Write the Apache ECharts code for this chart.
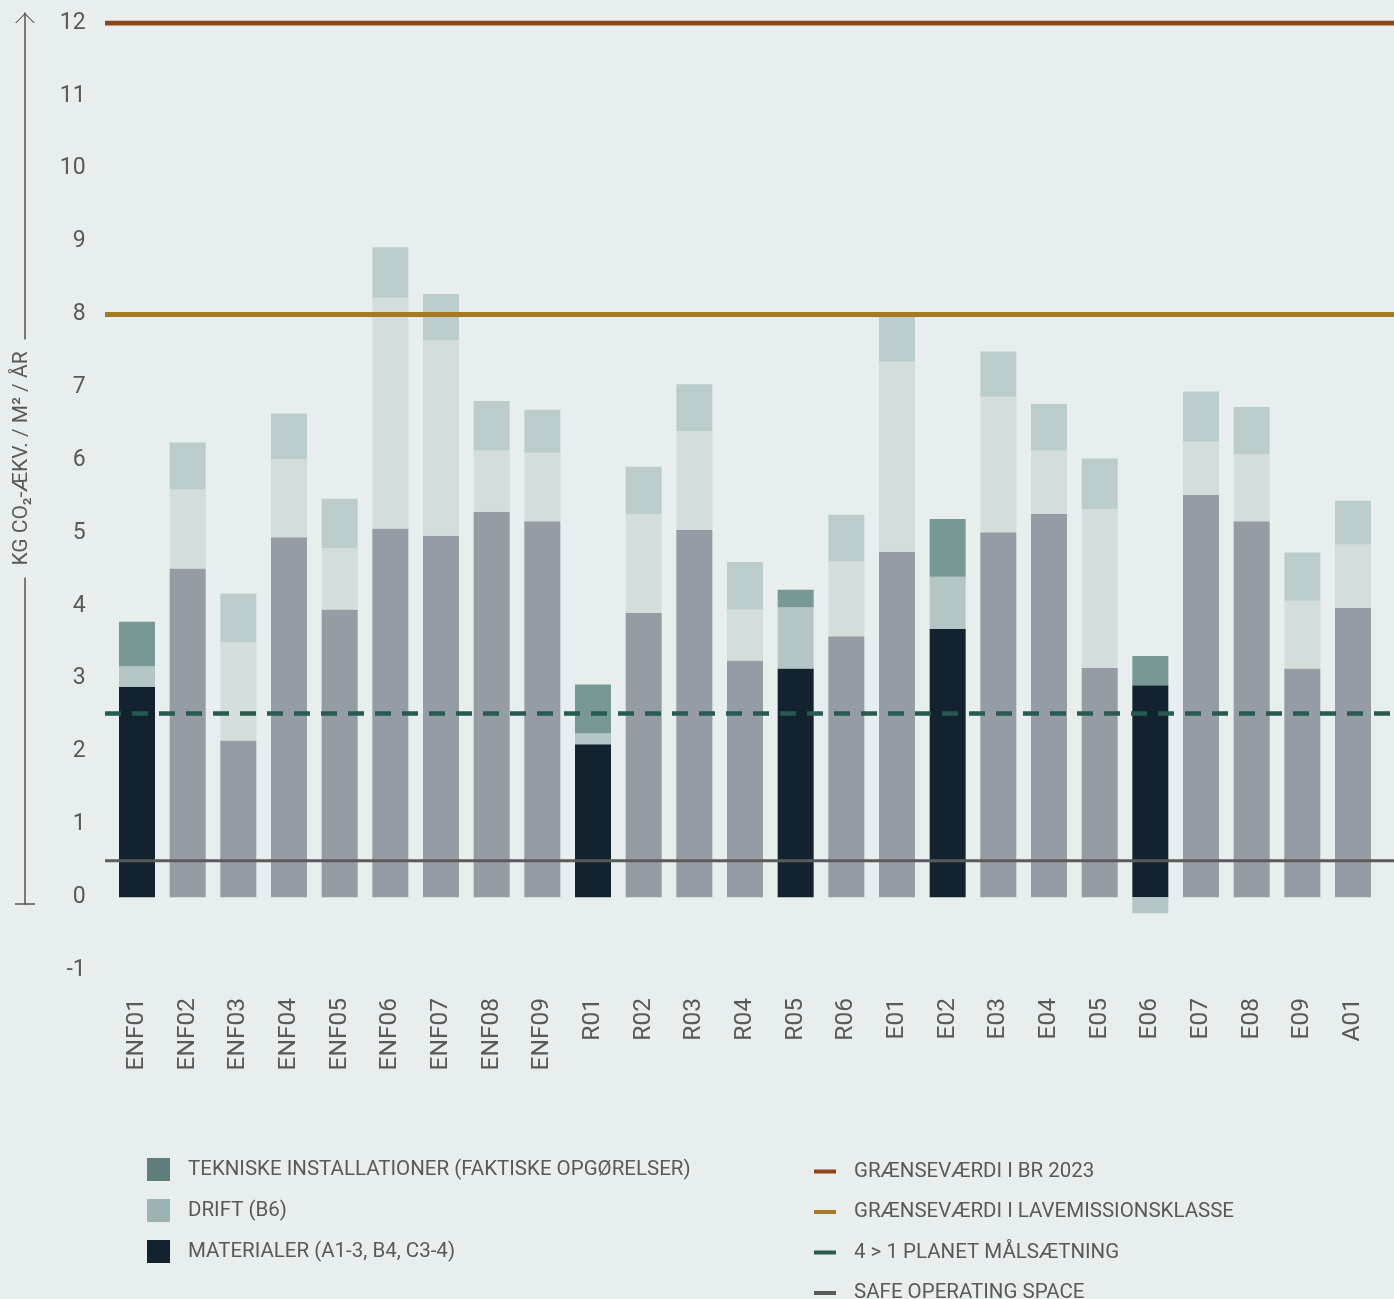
<!DOCTYPE html>
<html>
<head>
<meta charset="utf-8">
<script src="https://cdn.jsdelivr.net/npm/echarts@6/dist/echarts.min.js"></script>
<style>
  html, body { margin: 0; padding: 0; background: #e8eeee; }
  #chart { width: 1394px; height: 1299px; }
</style>
</head>
<body>
<div id="chart"></div>
<script>
const categories = ["ENF01","ENF02","ENF03","ENF04","ENF05","ENF06","ENF07","ENF08","ENF09","R01","R02","R03","R04","R05","R06","E01","E02","E03","E04","E05","E06","E07","E08","E09","A01"];
const highlighted = ["ENF01","R01","R05","E02","E06"];
const materialer = [2.89,4.51,2.15,4.94,3.95,5.06,4.96,5.29,5.16,2.10,3.90,5.04,3.25,3.14,3.58,4.74,3.68,5.01,5.26,3.15,2.91,5.52,5.16,3.14,3.97];
const drift      = [0.28,1.09,1.35,1.07,0.84,3.17,2.68,0.84,0.94,0.15,1.36,1.36,0.70,0.84,1.03,2.61,0.72,1.86,0.87,2.18,-0.22,0.73,0.92,0.93,0.87];
const tekniske   = [0.61,0.64,0.67,0.63,0.68,0.69,0.64,0.68,0.59,0.67,0.65,0.64,0.65,0.24,0.64,0.62,0.79,0.62,0.64,0.69,0.40,0.69,0.65,0.66,0.60];
const barNames = ["TEKNISKE INSTALLATIONER (FAKTISKE OPGØRELSER)", "DRIFT (B6)", "MATERIALER (A1-3, B4, C3-4)"];
const refNames = ["GRÆNSEVÆRDI I BR 2023", "GRÆNSEVÆRDI I LAVEMISSIONSKLASSE", "4 > 1 PLANET MÅLSÆTNING", "SAFE OPERATING SPACE"];
const refValues = [12, 8, 2.52, 0.5];
const yTitle = "KG CO₂-ÆKV. / M² / ÅR";

const FONT = "Roboto";
const TXT = "#595959";
const BG = "#e8eeee";

function barData(vals, hiColor, dimColor) {
  return vals.map((v, i) => ({
    value: v,
    itemStyle: { color: highlighted.includes(categories[i]) ? hiColor : dimColor }
  }));
}

const chart = echarts.init(document.getElementById('chart'), null, { renderer: 'canvas' });

const refColors = ["#8c4514", "#a67a22", "#285a52", "#5b5b5b"];
const refStyles = [
  { width: 5, type: 'solid' },
  { width: 5, type: 'solid' },
  { width: 4.5, type: [16, 11] },
  { width: 3, type: 'solid' }
];

const option = {
  backgroundColor: BG,
  animation: false,
  textStyle: { fontFamily: FONT },
  grid: [
    { left: 111.67, right: 15.67, top: 23, bottom: 1299 - 970, outerBoundsMode: 'none' },
    { left: 105, right: 0, top: 23, bottom: 1299 - 970, outerBoundsMode: 'none' },
    { left: 25, width: 10, top: 13, bottom: 1299 - 904, outerBoundsMode: 'none' }
  ],
  xAxis: [
    {
      type: 'category', gridIndex: 0, data: categories,
      axisLine: { show: false, onZero: false }, axisTick: { show: false },
      axisLabel: { rotate: 90, margin: 28, fontSize: 24.5, color: TXT, fontFamily: FONT }
    },
    { type: 'value', gridIndex: 1, min: 0, max: 1, show: false },
    { type: 'value', gridIndex: 2, min: 0, max: 1, show: false }
  ],
  yAxis: [
    {
      type: 'value', gridIndex: 0, min: -1, max: 12, interval: 1,
      axisLine: { show: false }, axisTick: { show: false }, splitLine: { show: false },
      axisLabel: { margin: 26, fontSize: 23, color: TXT, fontFamily: FONT }
    },
    { type: 'value', gridIndex: 1, min: -1, max: 12, show: false },
    {
      type: 'value', gridIndex: 2, min: 0, max: 1, position: 'left', z: 2,
      axisLine: {
        show: true,
        lineStyle: { color: '#555555', width: 1.5 },
        symbol: ['path://M10,0 Z M0,4.2 L20,4.2 L20,5.8 L0,5.8 Z M10,10 Z',
                 'path://M0,10 L10,0 L20,10 L18.6,10 L10,1.6 L1.4,10 Z'],
        symbolSize: [20, 10],
        symbolOffset: [0, -5]
      },
      axisTick: { show: false }, axisLabel: { show: false }, splitLine: { show: false }
    },
    {
      type: 'value', gridIndex: 2, min: 0, max: 1, position: 'left', z: 20,
      axisLine: { show: false }, axisTick: { show: false }, axisLabel: { show: false }, splitLine: { show: false },
      name: yTitle, nameLocation: 'middle', nameRotate: 90, nameGap: 3,
      nameTextStyle: {
        fontSize: 21, color: TXT, fontFamily: FONT,
        backgroundColor: BG, padding: [2, 12],
        align: 'center', verticalAlign: 'middle'
      }
    }
  ],
  legend: [
    {
      orient: 'vertical', left: 147, top: 1155, height: 200, padding: 0,
      itemWidth: 23, itemHeight: 23, itemGap: 12, icon: 'rect',
      textStyle: { fontSize: 20.5, lineHeight: 23, color: TXT, fontFamily: FONT, padding: [6, 0, 0, 13] },
      data: barNames, selectedMode: false
    },
    {
      orient: 'vertical', left: 814, top: 1161, height: 200, padding: 0,
      itemWidth: 22, itemHeight: 4, itemGap: 19.5, icon: 'rect',
      textStyle: { fontSize: 20.5, color: TXT, fontFamily: FONT, lineHeight: 20, padding: [0, 0, 0, 13] },
      data: refNames, selectedMode: false
    }
  ],
  series: [
    {
      name: barNames[2], type: 'bar', stack: 'total', xAxisIndex: 0, yAxisIndex: 0,
      barWidth: 36, itemStyle: { color: '#12222f' },
      data: barData(materialer, '#12222f', '#959ca3')
    },
    {
      name: barNames[1], type: 'bar', stack: 'total', xAxisIndex: 0, yAxisIndex: 0,
      barWidth: 36, itemStyle: { color: '#9bb4b3' },
      data: barData(drift, '#b3c5c5', '#d3dddc')
    },
    {
      name: barNames[0], type: 'bar', stack: 'total', xAxisIndex: 0, yAxisIndex: 0,
      barWidth: 36, itemStyle: { color: '#5f7d7b' },
      data: barData(tekniske, '#779894', '#bacccb')
    }
  ].concat(refNames.map((n, k) => ({
    name: n, type: 'line', xAxisIndex: 1, yAxisIndex: 1, z: 5,
    symbol: 'none', silent: true,
    itemStyle: { color: refColors[k] },
    lineStyle: Object.assign({ color: refColors[k], cap: 'butt' }, refStyles[k]),
    data: [[0, refValues[k]], [1, refValues[k]]]
  })))
};

chart.setOption(option);
</script>
</body>
</html>
